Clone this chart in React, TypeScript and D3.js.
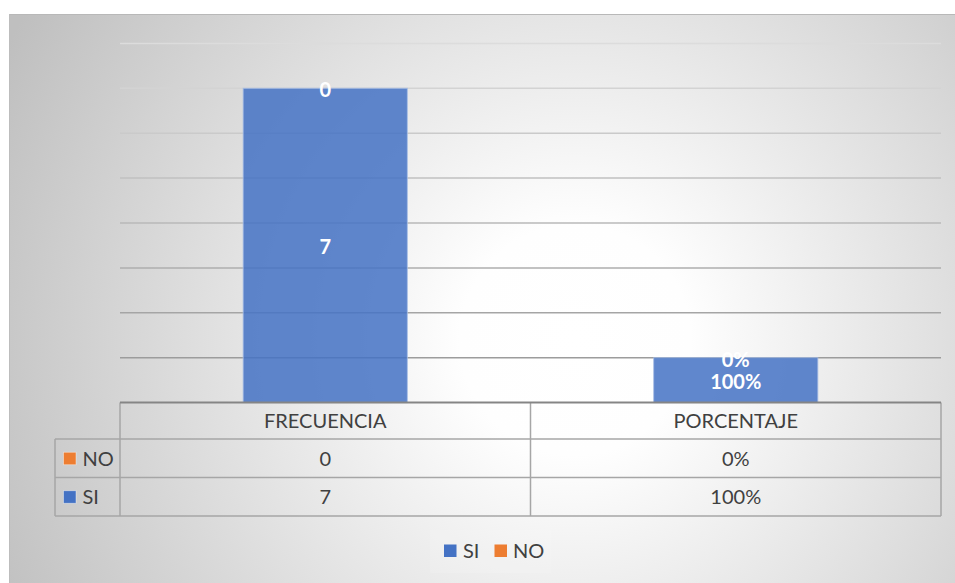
import React from "react";
import * as d3 from "d3";

// Categories along the x axis and the two stacked series
const categories = ["FRECUENCIA", "PORCENTAJE"];
const seriesNames = ["SI", "NO"];
const siValues = [7, 1];
const noValues = [0, 0];
// Text shown in the data table / on the bars for each series
const siLabels = ["7", "100%"];
const noLabels = ["0", "0%"];
const yTicks = [1, 2, 3, 4, 5, 6, 7, 8];

const W = 955;
const H = 583;
const FONT = "Lato, 'Open Sans', sans-serif";
const colors: Record<string, string> = { SI: "#4472C4", NO: "#ED7D31" };

export default function App() {
  const plotLeft = 120;
  const plotRight = 941;
  const x = d3
    .scaleBand<string>()
    .domain(categories)
    .range([plotLeft, plotRight])
    .paddingInner(0.6)
    .paddingOuter(0.3);
  const y = d3.scaleLinear().domain([0, 8]).range([402.6, 43.4]);

  const rows = categories.map((c, i) => ({ cat: c, SI: siValues[i], NO: noValues[i] }));
  const stack = d3.stack<any>().keys(seriesNames);
  const layers = stack(rows);
  const labelsBy: Record<string, string[]> = { SI: siLabels, NO: noLabels };

  const gridColor = d3.interpolateRgb("#dcdcdc", "#939393");

  const step = x.step();
  const colEdges = categories.map((c) => (x(c) as number) + x.bandwidth() / 2 - step / 2);
  colEdges.push(plotRight);
  const tableTop = y(0);
  const headerBottom = 439;
  const rowBottoms = [477.5, 516];
  const legendLeft = 55;

  const tableRows = [
    { name: "NO", labels: noLabels, top: headerBottom, bottom: rowBottoms[0] },
    { name: "SI", labels: siLabels, top: rowBottoms[0], bottom: rowBottoms[1] },
  ];

  return (
    <svg
      width={W}
      height={H}
      style={{ position: "fixed", left: 0, top: 0, display: "block" }}
      fontFamily={FONT}
    >
      <defs>
        <radialGradient id="bg" gradientUnits="userSpaceOnUse" cx={575} cy={340} r={640}>
          <stop offset="0" stopColor="#ffffff" />
          <stop offset="0.18" stopColor="#fefefe" />
          <stop offset="1" stopColor="#bfbfbf" />
        </radialGradient>
      </defs>
      <rect x={0} y={0} width={W} height={H} fill="#ffffff" />
      <rect x={9} y={14} width={W - 9} height={H - 14} fill="url(#bg)" />
      <line x1={9} x2={W} y1={14.5} y2={14.5} stroke="#b8b8b8" strokeWidth={1} />
      <line x1={9.5} x2={9.5} y1={14} y2={H} stroke="#bdbdbd" strokeWidth={1} />

      {/* horizontal gridlines */}
      {yTicks.map((t) => (
        <line
          key={t}
          x1={plotLeft}
          x2={plotRight}
          y1={y(t)}
          y2={y(t)}
          stroke={gridColor(1 - t / 8)}
          strokeWidth={1.5}
        />
      ))}

      {/* stacked columns */}
      {layers.map((layer) =>
        layer.map((d, i) => {
          const y0 = y(d[0]);
          const y1 = y(d[1]);
          return (
            <rect
              key={layer.key + i}
              x={x(categories[i])}
              y={y1}
              width={x.bandwidth()}
              height={Math.max(0, y0 - y1)}
              fill={colors[layer.key]}
              fillOpacity={0.85}
              stroke="#a9bfe6"
              strokeOpacity={layer.key === "SI" ? 0.8 : 0}
              strokeWidth={1}
            />
          );
        })
      )}

      {/* data labels */}
      {layers.map((layer) =>
        layer.map((d, i) => (
          <text
            key={"lbl" + layer.key + i}
            x={(x(categories[i]) as number) + x.bandwidth() / 2}
            y={(y(d[0]) + y(d[1])) / 2 + 1}
            textAnchor="middle"
            dominantBaseline="central"
            fill="#ffffff"
            fontWeight="bold"
            fontSize={20}
          >
            {labelsBy[layer.key][i]}
          </text>
        ))
      )}

      {/* data table */}
      <g stroke="#a6a6a6" strokeWidth={1.5} fill="none">
        {colEdges.map((cx, i) => (
          <line key={"v" + i} x1={cx} x2={cx} y1={tableTop} y2={rowBottoms[1]} />
        ))}
        <line x1={legendLeft} x2={legendLeft} y1={headerBottom} y2={rowBottoms[1]} />
        <line x1={legendLeft} x2={plotRight} y1={headerBottom} y2={headerBottom} />
        <line x1={legendLeft} x2={plotRight} y1={rowBottoms[0]} y2={rowBottoms[0]} />
        <line x1={legendLeft} x2={plotRight} y1={rowBottoms[1]} y2={rowBottoms[1]} />
      </g>
      <line x1={plotLeft} x2={plotRight} y1={tableTop} y2={tableTop} stroke="#858585" strokeWidth={2} />

      {categories.map((c) => (
        <text
          key={"h" + c}
          x={(x(c) as number) + x.bandwidth() / 2}
          y={428}
          textAnchor="middle"
          fill="#404040"
          fontSize={20}
        >
          {c}
        </text>
      ))}

      {tableRows.map((r) => (
        <g key={"row" + r.name}>
          <rect
            x={63.5}
            y={(r.top + r.bottom) / 2 - 6}
            width={12.5}
            height={12.5}
            fill={colors[r.name]}
            stroke="#ffffff"
            strokeOpacity={0.5}
            strokeWidth={0.8}
          />
          <text x={82.5} y={(r.top + r.bottom) / 2 + 7.5} fill="#404040" fontSize={20}>
            {r.name}
          </text>
          {categories.map((c, i) => (
            <text
              key={c}
              x={(x(c) as number) + x.bandwidth() / 2}
              y={(r.top + r.bottom) / 2 + 7.5}
              textAnchor="middle"
              fill="#404040"
              fontSize={20}
            >
              {r.labels[i]}
            </text>
          ))}
        </g>
      ))}

      {/* legend */}
      <rect x={430} y={530} width={121} height={43} fill="#ffffff" fillOpacity={0.12} />
      {[
        { name: "SI", sx: 444, tx: 463 },
        { name: "NO", sx: 494.5, tx: 513 },
      ].map((l) => (
        <g key={"leg" + l.name}>
          <rect x={l.sx} y={544.5} width={12.5} height={12.5} fill={colors[l.name]} />
          <text x={l.tx} y={558} fill="#404040" fontSize={20}>
            {l.name}
          </text>
        </g>
      ))}
    </svg>
  );
}
